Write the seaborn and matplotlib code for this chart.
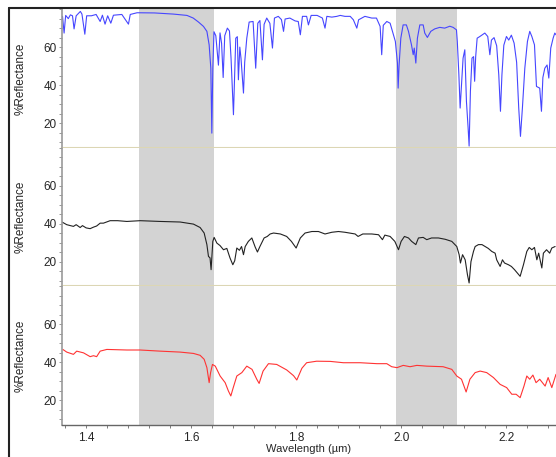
import matplotlib
matplotlib.use("Agg")
import matplotlib.pyplot as plt
from matplotlib.lines import Line2D
from matplotlib.ticker import MultipleLocator
import pandas as pd
import seaborn as sns

# spectra (wavelength in um, % reflectance)
blue_wl = [1.355, 1.358, 1.361, 1.366, 1.370, 1.374, 1.377, 1.381, 1.389, 1.392, 1.3975, 1.401,
           1.410, 1.419, 1.4267, 1.431, 1.436, 1.441, 1.447, 1.452, 1.468, 1.4806, 1.484, 1.497,
           1.530, 1.566, 1.592, 1.604, 1.614, 1.6235, 1.630, 1.6343, 1.6375, 1.6394, 1.6413, 1.6435,
           1.647, 1.652, 1.655, 1.658, 1.661, 1.664, 1.669, 1.673, 1.676, 1.6806, 1.685, 1.688,
           1.690, 1.6927, 1.695, 1.6997, 1.702, 1.706, 1.7105, 1.718, 1.723, 1.727, 1.731, 1.7358,
           1.739, 1.744, 1.750, 1.7549, 1.7587, 1.766, 1.772, 1.776, 1.779, 1.788, 1.798, 1.804,
           1.808, 1.812, 1.820, 1.8234, 1.8286, 1.840, 1.850, 1.855, 1.8585, 1.868, 1.8775, 1.884,
           1.893, 1.903, 1.909, 1.9156, 1.919, 1.925, 1.931, 1.944, 1.953, 1.960, 1.963, 1.966,
           1.9727, 1.979, 1.9853, 1.989, 1.993, 1.9943, 1.996, 1.9994, 2.0038, 2.010, 2.014, 2.0197,
           2.023, 2.025, 2.028, 2.031, 2.0356, 2.042, 2.045, 2.050, 2.0565, 2.064, 2.0735, 2.083,
           2.0927, 2.099, 2.1054, 2.107, 2.110, 2.1124, 2.115, 2.118, 2.1213, 2.1244, 2.1276, 2.1295,
           2.132, 2.135, 2.138, 2.140, 2.142, 2.1448, 2.150, 2.1594, 2.165, 2.169, 2.172, 2.177,
           2.182, 2.186, 2.1892, 2.192, 2.1956, 2.2006, 2.205, 2.210, 2.2152, 2.220, 2.224, 2.2273,
           2.231, 2.2356, 2.2406, 2.245, 2.249, 2.254, 2.2578, 2.264, 2.2673, 2.270, 2.2737, 2.278,
           2.2813, 2.285, 2.2895, 2.2927, 2.295]
blue_pct = [76.2, 67.4, 76.7, 75.0, 77.0, 76.5, 69.6, 76.5, 78.8, 77.4, 66.8, 76.5,
            76.5, 77.2, 73.5, 76.8, 72.1, 76.5, 72.6, 76.8, 77.2, 72.1, 77.2, 78.1,
            78.0, 77.4, 76.7, 75.3, 73.2, 70.9, 68.3, 61.2, 48.9, 14.7, 48.9, 68.1,
            66.0, 50.5, 67.5, 62.0, 44.0, 66.0, 70.0, 68.5, 54.2, 24.4, 64.7, 65.5,
            42.8, 60.0, 54.0, 35.8, 52.0, 64.7, 73.2, 73.5, 48.9, 72.6, 74.0, 53.3,
            72.0, 75.3, 72.5, 59.5, 75.3, 76.2, 74.5, 68.3, 74.8, 75.3, 73.8, 73.5,
            66.5, 76.2, 76.2, 71.7, 76.7, 76.7, 75.3, 70.0, 76.2, 75.8, 76.2, 76.7,
            76.2, 76.2, 74.4, 70.0, 74.4, 75.3, 76.2, 75.3, 75.3, 70.9, 56.0, 71.5,
            73.5, 72.6, 66.5, 63.0, 51.6, 38.4, 50.0, 64.7, 71.7, 71.7, 68.3, 61.2,
            56.0, 59.5, 51.6, 64.7, 71.7, 71.7, 67.4, 65.1, 68.3, 69.6, 70.4, 70.0,
            71.0, 70.4, 69.1, 63.0, 45.4, 27.9, 40.0, 54.2, 58.6, 31.4, 17.4, 7.9,
            37.0, 54.2, 55.0, 42.0, 55.0, 64.7, 65.6, 67.4, 65.6, 56.0, 63.7, 65.0,
            60.7, 45.4, 26.2, 45.4, 61.0, 65.6, 63.7, 66.3, 62.1, 52.0, 27.9, 13.0,
            27.9, 48.9, 63.0, 68.3, 65.6, 61.2, 39.3, 38.4, 26.2, 44.0, 48.9, 50.6,
            43.7, 59.5, 64.7, 67.4, 66.5]

black_wl = [1.354, 1.363, 1.370, 1.3758, 1.381, 1.3886, 1.393, 1.400, 1.4076, 1.414, 1.420, 1.4267,
            1.433, 1.4457, 1.460, 1.4775, 1.503, 1.541, 1.579, 1.6044, 1.6171, 1.6248, 1.630, 1.633,
            1.636, 1.638, 1.6413, 1.6438, 1.649, 1.655, 1.6616, 1.668, 1.674, 1.6794, 1.683, 1.687,
            1.692, 1.696, 1.6997, 1.703, 1.709, 1.7156, 1.722, 1.7263, 1.731, 1.739, 1.745, 1.7505,
            1.757, 1.770, 1.782, 1.791, 1.800, 1.808, 1.817, 1.830, 1.8425, 1.855, 1.868, 1.8806,
            1.893, 1.9124, 1.918, 1.927, 1.944, 1.957, 1.9644, 1.969, 1.979, 1.988, 1.995, 2.000,
            2.0063, 2.014, 2.020, 2.028, 2.033, 2.042, 2.0488, 2.058, 2.071, 2.084, 2.0965, 2.106,
            2.1105, 2.113, 2.117, 2.122, 2.1263, 2.1295, 2.133, 2.1378, 2.141, 2.1473, 2.154, 2.160,
            2.166, 2.1727, 2.179, 2.182, 2.1886, 2.193, 2.197, 2.2044, 2.210, 2.216, 2.2267, 2.233,
            2.2394, 2.244, 2.249, 2.254, 2.2585, 2.262, 2.268, 2.271, 2.277, 2.283, 2.287, 2.2933]
black_pct = [40.9, 39.5, 39.0, 38.6, 39.5, 38.0, 39.0, 37.8, 37.4, 38.2, 38.8, 40.3,
             40.3, 41.6, 41.6, 41.2, 41.6, 41.2, 40.9, 39.8, 38.0, 35.1, 29.0, 22.8,
             22.0, 15.8, 30.7, 32.8, 29.8, 28.5, 26.3, 27.0, 22.0, 18.4, 20.5, 27.2,
             26.0, 28.0, 23.7, 28.0, 30.7, 32.5, 27.7, 25.1, 28.0, 32.5, 33.3, 34.6,
             35.1, 34.6, 33.3, 30.7, 27.2, 32.5, 35.1, 35.9, 35.9, 34.6, 35.5, 35.9,
             35.5, 34.6, 33.3, 34.6, 34.6, 34.2, 31.6, 34.0, 33.3, 30.7, 26.3, 30.7,
             33.3, 32.5, 30.7, 29.0, 32.5, 32.8, 31.6, 32.5, 32.5, 31.8, 30.7, 28.0,
             23.7, 19.3, 23.7, 21.0, 13.2, 8.8, 20.0, 25.4, 28.0, 29.0, 29.0, 28.0,
             27.0, 25.4, 24.5, 21.0, 17.5, 21.0, 19.3, 18.4, 17.5, 15.8, 12.3, 18.4,
             25.4, 27.5, 26.3, 27.5, 21.0, 24.5, 16.7, 24.5, 26.3, 24.5, 27.2, 28.0]

red_wl = [1.3556, 1.363, 1.3758, 1.382, 1.395, 1.4076, 1.414, 1.420, 1.4267, 1.4394, 1.4775, 1.503,
          1.541, 1.579, 1.6044, 1.6171, 1.6248, 1.630, 1.6343, 1.637, 1.6406, 1.646, 1.6552, 1.6648,
          1.671, 1.6756, 1.680, 1.687, 1.6966, 1.706, 1.716, 1.725, 1.7295, 1.737, 1.7473, 1.763,
          1.782, 1.795, 1.8013, 1.811, 1.820, 1.839, 1.865, 1.890, 1.922, 1.954, 1.9727, 1.982,
          1.992, 2.004, 2.017, 2.030, 2.049, 2.080, 2.0965, 2.106, 2.115, 2.1238, 2.131, 2.141,
          2.1505, 2.163, 2.1758, 2.1886, 2.201, 2.2108, 2.219, 2.2267, 2.234, 2.2394, 2.245, 2.251,
          2.257, 2.264, 2.2743, 2.280, 2.287, 2.295]
red_pct = [46.8, 45.4, 44.2, 45.9, 45.0, 43.0, 43.5, 43.0, 45.9, 46.8, 46.5, 46.5,
           45.9, 45.4, 44.7, 43.7, 41.6, 37.2, 29.3, 34.5, 38.9, 38.0, 32.8, 29.3,
           24.9, 22.3, 26.5, 32.8, 34.6, 38.0, 36.3, 31.1, 28.9, 35.4, 39.3, 38.9,
           36.0, 33.0, 30.7, 36.9, 39.8, 40.6, 40.5, 39.8, 39.8, 39.3, 39.3, 37.7,
           37.2, 38.4, 37.7, 38.4, 38.0, 37.7, 36.3, 32.8, 31.1, 24.4, 31.1, 34.6,
           35.4, 34.6, 32.0, 28.4, 26.7, 23.2, 23.2, 21.4, 27.5, 32.8, 31.1, 33.3,
           29.3, 31.1, 27.5, 32.0, 26.7, 33.7]

bands = [(1.501, 1.643), (1.990, 2.106)]
y_ticks = [20, 40, 60]
x_ticks = [1.4, 1.6, 1.8, 2.0, 2.2]

sns.set_style("white")
plt.rcParams['font.family'] = ['Liberation Sans', 'DejaVu Sans']

fig, axes = plt.subplots(3, 1, figsize=(5.56, 4.57), dpi=100, sharex=True)
fig.subplots_adjust(left=0.1115, right=1.0, top=0.980, bottom=0.070, hspace=0)

series = [(blue_wl, blue_pct, '#4646ff'), (black_wl, black_pct, '#222222'), (red_wl, red_pct, '#ff3333')]
olive = '#dcd6b4'
for i, (ax, (wl, pct, col)) in enumerate(zip(axes, series)):
    for lo, hi in bands:
        ax.axvspan(lo, hi, color='#d3d3d3', lw=0, zorder=0)
    df = pd.DataFrame({'wl': wl, 'pct': pct})
    sns.lineplot(data=df, x='wl', y='pct', ax=ax, color=col, linewidth=0.8, estimator=None)
    ax.set_ylim(7, 80)
    ax.set_xlim(1.354, 2.295)
    ax.set_yticks(y_ticks)
    ax.yaxis.set_minor_locator(MultipleLocator(5))
    ax.set_ylabel('%Reflectance', fontsize=8.5, labelpad=12)
    ax.set_xlabel('')
    ax.tick_params(axis='y', which='both', direction='out', length=2, width=0.6,
                   color='#888888', labelsize=8.5, pad=2, left=True)
    ax.spines['top'].set_visible(False)
    ax.spines['right'].set_visible(False)
    ax.spines['left'].set_color('#999999')
    ax.spines['left'].set_linewidth(1.2)
    if i < 2:
        ax.spines['bottom'].set_color(olive)
        ax.spines['bottom'].set_linewidth(1.5)
        ax.tick_params(axis='x', which='both', bottom=False)
    else:
        ax.spines['bottom'].set_color('#666666')
        ax.spines['bottom'].set_linewidth(1.0)

ax = axes[2]
ax.set_xticks(x_ticks)
ax.set_xticklabels([f'{t:.1f}' for t in x_ticks])
ax.xaxis.set_minor_locator(MultipleLocator(0.04))
ax.tick_params(axis='x', which='both', direction='out', length=2, width=0.6,
               color='#666666', labelsize=8.5, pad=3, bottom=True)
ax.set_xlabel('Wavelength (\u00b5m)', fontsize=8, labelpad=0)

# screenshot frame
fig.add_artist(Line2D([9 / 556, 9 / 556], [0, 1 - 8 / 457], color='#222222', lw=1.5, transform=fig.transFigure))
fig.add_artist(Line2D([9 / 556, 1], [1 - 8 / 457, 1 - 8 / 457], color='#222222', lw=1.5, transform=fig.transFigure))

fig.savefig('out.png', dpi=100)
